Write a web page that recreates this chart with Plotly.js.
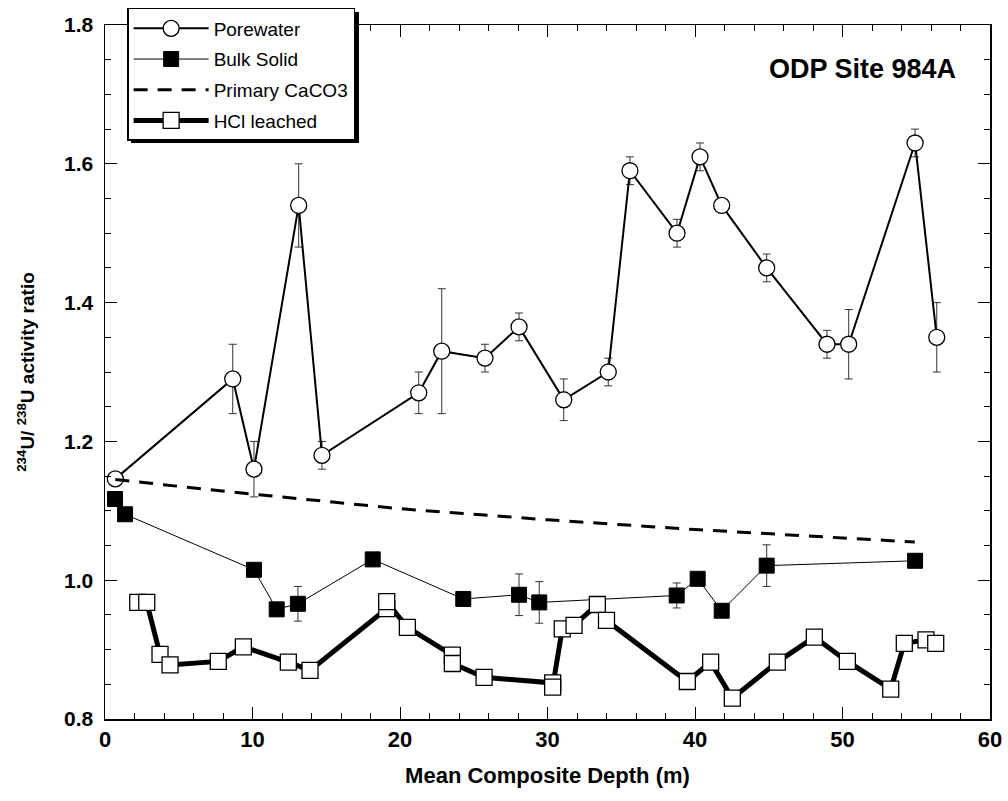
<!DOCTYPE html>
<html>
<head>
<meta charset="utf-8">
<script src="https://cdn.plot.ly/plotly-3.0.1.min.js"></script>
<style>html,body{margin:0;padding:0;background:#fff;}#chart{width:1008px;height:801px;}</style>
</head>
<body>
<div id="chart"></div>
<script>
// Porewater
const poreDepth = [0.7, 8.66, 10.1, 13.13, 14.71, 21.27, 22.83, 25.76, 28.07, 31.1, 34.12, 35.59, 38.78, 40.34, 41.81, 44.86, 48.95, 50.42, 54.92, 56.39];
const poreRatio = [1.146, 1.29, 1.16, 1.54, 1.18, 1.27, 1.33, 1.32, 1.365, 1.26, 1.30, 1.59, 1.50, 1.61, 1.54, 1.45, 1.34, 1.34, 1.63, 1.35];
const poreErr   = [0, 0.05, 0.04, 0.06, 0.02, 0.03, 0.09, 0.02, 0.02, 0.03, 0.02, 0.02, 0.02, 0.02, 0, 0.02, 0.02, 0.05, 0.02, 0.05];
// Bulk solid
const bulkDepth = [0.68, 1.36, 10.1, 11.64, 13.08, 18.15, 24.29, 28.07, 29.44, 38.76, 40.18, 41.81, 44.86, 54.92];
const bulkRatio = [1.117, 1.095, 1.015, 0.958, 0.966, 1.03, 0.973, 0.979, 0.968, 0.978, 1.002, 0.956, 1.021, 1.028];
const bulkErr   = [0, 0, 0, 0, 0.025, 0, 0, 0.03, 0.03, 0.018, 0, 0, 0.03, 0];
// Primary CaCO3
const caco3Depth = [0.7, 10, 20, 30, 40, 50, 54.9];
const caco3Ratio = [1.145, 1.124, 1.103, 1.087, 1.073, 1.061, 1.055];
// HCl leached
const hclDepth = [2.22, 2.83, 3.73, 4.41, 7.68, 9.38, 12.43, 13.9, 19.1, 19.1, 20.5, 23.55, 23.55, 25.7, 30.35, 30.35, 31.0, 31.8, 33.38, 34.0, 39.48, 41.06, 42.53, 45.58, 48.09, 50.33, 53.27, 54.19, 55.66, 56.32];
const hclRatio = [0.968, 0.968, 0.893, 0.878, 0.883, 0.904, 0.882, 0.870, 0.959, 0.969, 0.932, 0.892, 0.880, 0.860, 0.852, 0.846, 0.930, 0.935, 0.965, 0.942, 0.854, 0.882, 0.830, 0.882, 0.918, 0.883, 0.843, 0.909, 0.914, 0.909];

const names = ['Porewater', 'Bulk Solid', 'Primary CaCO3', 'HCl leached'];

const traces = [
  {
    x: poreDepth, y: poreRatio, name: names[0], type: 'scatter', mode: 'lines+markers', legendgroup: 'a',
    line: {color: '#000', width: 2},
    marker: {symbol: 'circle', size: 16, color: '#fff', line: {color: '#000', width: 1.3}},
    error_y: {type: 'data', array: poreErr, visible: true, color: '#333', thickness: 1, width: 4}
  },
  {
    x: bulkDepth, y: bulkRatio, name: names[1], type: 'scatter', mode: 'lines+markers', legendgroup: 'b',
    line: {color: '#000', width: 1},
    marker: {symbol: 'square', size: 15, color: '#000', line: {color: '#000', width: 1}},
    error_y: {type: 'data', array: bulkErr, visible: true, color: '#333', thickness: 1, width: 4}
  },
  {
    x: caco3Depth, y: caco3Ratio, name: names[2], type: 'scatter', mode: 'lines', legendgroup: 'c',
    line: {color: '#000', width: 3, dash: '14px,10px'}
  },
  {
    x: hclDepth, y: hclRatio, name: names[3], type: 'scatter', mode: 'lines+markers', legendgroup: 'd',
    line: {color: '#000', width: 5},
    marker: {symbol: 'square', size: 16, color: '#fff', line: {color: '#000', width: 1.3}}
  }
];

const axisCommon = {
  showline: true, linecolor: '#000', linewidth: 1.5, mirror: 'ticks',
  ticks: 'inside', ticklen: 12, tickwidth: 1, tickcolor: '#000',
  showgrid: false, zeroline: false
};

const layout = {
  width: 1008, height: 801,
  margin: {l: 105, r: 18, t: 25, b: 82, autoexpand: false},
  paper_bgcolor: '#fff', plot_bgcolor: '#fff',
  showlegend: true,
  legend: {
    x: 0.025, y: 1.0245, xanchor: 'left', yanchor: 'top',
    bgcolor: '#fff', bordercolor: '#000', borderwidth: 1.5,
    font: {family: 'Liberation Sans, Arial, sans-serif', size: 19, color: '#000'},
    tracegroupgap: 3, traceorder: 'grouped', itemwidth: 75
  },
  xaxis: Object.assign({}, axisCommon, {
    range: [0, 60], dtick: 10, tick0: 0,
    minor: {dtick: 2, ticks: 'inside', ticklen: 6, tickcolor: '#000', showgrid: false},
    tickfont: {family: 'Liberation Sans Narrow, Liberation Sans, Arial, sans-serif', size: 22, color: '#000', weight: 'bold'},
    title: {text: 'Mean Composite Depth (m)', standoff: 16,
      font: {family: 'Liberation Sans Narrow, Liberation Sans, Arial, sans-serif', size: 22, color: '#000', weight: 'bold'}}
  }),
  yaxis: Object.assign({}, axisCommon, {
    range: [0.8, 1.8], dtick: 0.2, tick0: 0.8, tickformat: '.1f',
    ticklabelstandoff: 6,
    minor: {dtick: 0.05, ticks: 'inside', ticklen: 6, tickcolor: '#000', showgrid: false},
    tickfont: {family: 'Liberation Sans, Arial, sans-serif', size: 21, color: '#000', weight: 'bold'},
    title: {text: '<sup>234</sup>U/ <sup>238</sup>U activity ratio', standoff: 24,
      font: {family: 'Liberation Sans, Arial, sans-serif', size: 19, color: '#000', weight: 'bold'}}
  }),
  annotations: [{
    text: 'ODP Site 984A', xref: 'paper', yref: 'paper', x: 0.9638, y: 0.937,
    xanchor: 'right', yanchor: 'middle', showarrow: false,
    font: {family: 'Liberation Sans, Arial, sans-serif', size: 27, color: '#000', weight: 'bold'}
  }],
  shapes: [{
    type: 'rect', xref: 'paper', yref: 'paper', layer: 'above',
    x0: 0.0294, x1: 0.287, y0: 0.830, y1: 1.0187,
    fillcolor: '#000', line: {width: 0}
  }]
};

Plotly.newPlot('chart', traces, layout, {displayModeBar: false, staticPlot: true});
</script>
</body>
</html>
